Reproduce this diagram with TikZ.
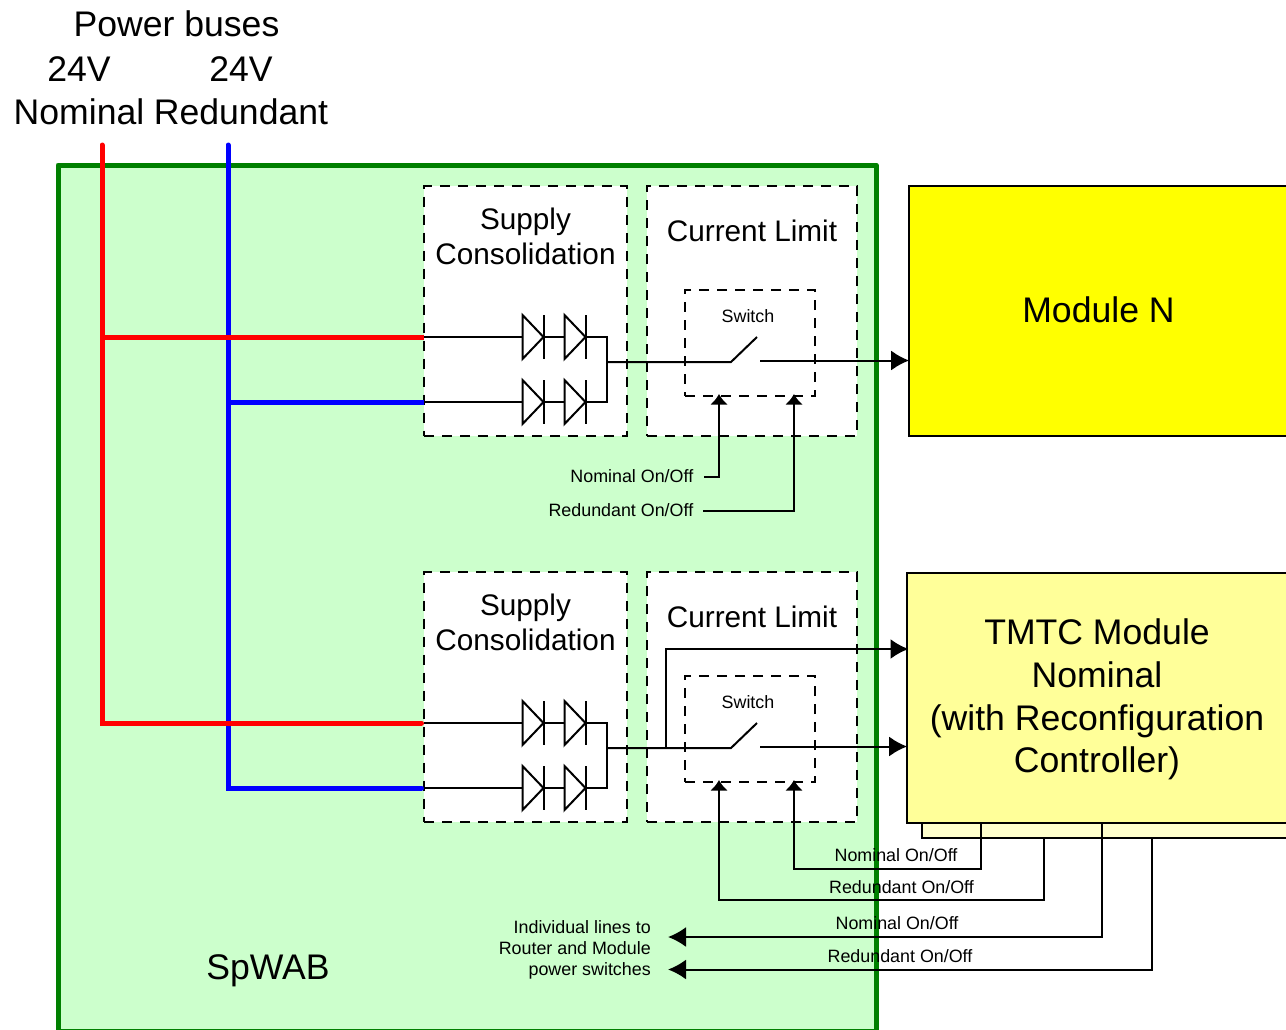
\documentclass[tikz,border=0pt]{standalone}
\usepackage{fontspec}
\setmainfont{Liberation Sans}
\usetikzlibrary{arrows.meta}
\definecolor{wabgreen}{HTML}{CCFFCC}
\definecolor{wabedge}{HTML}{008000}
\definecolor{modyellow}{HTML}{FFFF00}
\definecolor{tmtcyellow}{HTML}{FFFF99}
\definecolor{backyellow}{HTML}{FFFFCC}
\tikzset{
  wire/.style={line width=1.5pt},
  bus/.style={line width=3.75pt,line cap=round},
  block/.style={draw,line width=1.5pt,outer sep=0pt,inner sep=0pt},
  dashbox/.style={block,fill=white,dash pattern=on 7.5pt off 6pt},
  bigtext/.style={font=\fontsize{26.7}{32}\selectfont,align=center,inner sep=0pt},
  midtext/.style={font=\fontsize{22.3}{26.2}\selectfont,align=center,inner sep=0pt},
  smalltext/.style={font=\fontsize{13.4}{15.75}\selectfont,inner sep=0pt},
  bighead/.style={-{Latex[length=13.5pt,width=15pt]}},
  uphead/.style={-{Latex[length=8pt,width=13.5pt]}},
  diode/.pic={
    \draw[wire,line join=miter] (0,-22) -- (0,22) -- (21,0) -- cycle;
    \draw[wire] (21,-22) -- (21,22);
    \coordinate (-in) at (0,0);
    \coordinate (-out) at (21,0);
  }
}
\begin{document}
\begin{tikzpicture}[x=0.75pt,y=-0.75pt]
  \path[clip,use as bounding box] (0,0) rectangle (1286,1029);
  % backplane
  \node[block,fill=wabgreen,draw=wabedge,line width=3.75pt,line join=round,minimum width=613.5pt,minimum height=649.5pt] (wab) at (467,598) {};
  \node[bigtext] (wablabel) at (268,971) {SpWAB};
  % power buses
  \node[bigtext] (title) at (176.5,24) {Power buses};
  \node[bigtext] (volta) at (79,69) {24V};
  \node[bigtext] (voltb) at (241,69) {24V};
  \node[bigtext] (noma) at (79,112) {Nominal};
  \node[bigtext] (reda) at (241,112) {Redundant};
  % two identical switch groups
  \foreach \g/\dy in {a/0,b/386} {
    \begin{scope}[shift={(0,\dy)}]
      \node[dashbox,minimum width=152pt,minimum height=187.5pt] (supply\g) at (525.5,311) {};
      \node[dashbox,minimum width=157.5pt,minimum height=187.5pt] (limit\g) at (752,311) {};
      \node[dashbox,minimum width=97.5pt,minimum height=79.5pt] (switch\g) at (750,343) {};
      \node[midtext] (supplylabel\g) at (525.5,236.5) {Supply\\Consolidation};
      \node[midtext] (limitlabel\g) at (752,231) {Current Limit};
      \node[smalltext] (switchlabel\g) at (748,316) {Switch};
      \coordinate (nomin\g) at (424,337);
      \coordinate (redin\g) at (424,402);
      \coordinate (join\g) at (607,362);
      \coordinate (contact\g) at (731,362);
      \coordinate (lever\g) at (757,337);
      \coordinate (out\g) at (760,360.5);
      \coordinate (ctrlnom\g) at (719,394);
      \coordinate (ctrlred\g) at (794,394);
      \pic (n1\g) at (522.5,337) {diode};
      \pic (n2\g) at (564.5,337) {diode};
      \pic (r1\g) at (522.5,402) {diode};
      \pic (r2\g) at (564.5,402) {diode};
      \draw[wire] (nomin\g) -- (n1\g-in);
      \draw[wire] (n1\g-out) -- (n2\g-in);
      \draw[wire] (redin\g) -- (r1\g-in);
      \draw[wire] (r1\g-out) -- (r2\g-in);
      \draw[wire] (n2\g-out) -| (join\g);
      \draw[wire] (r2\g-out) -| (join\g);
      \draw[wire,line join=miter] (join\g) -- (contact\g) -- (lever\g);
    \end{scope}
  }
  % bus lines
  \coordinate (bluetop) at (228,145);
  \coordinate (redtop) at (102,145);
  \draw[bus,blue,line join=miter,shorten >=1.9pt] (bluetop) |- (redinb);
  \draw[bus,blue,line cap=butt] (bluetop |- redina) -- (redina);
  \draw[bus,red,line join=miter,shorten >=1.9pt] (redtop) |- (nominb);
  \draw[bus,red,line cap=butt] (redtop |- nomina) -- (nomina);
  % modules
  \node[block,fill=backyellow,minimum width=300pt,minimum height=100pt] (backbox) at (1122,771.5) {};
  \node[block,fill=modyellow,minimum width=290pt,minimum height=187.5pt] (modulen) at (1102.5,311) {};
  \node[block,fill=tmtcyellow,minimum width=290pt,minimum height=187.5pt] (tmtc) at (1100.5,698) {};
  \node[bigtext] (modlabel) at (1098.5,310) {Module N};
  \node[bigtext] (tmtclabel) at (1097,699.5) {TMTC Module\\Nominal\\(with Reconfiguration\\Controller)};
  % outputs
  \draw[wire,bighead] (outa) -- (outa -| modulen.west);
  \draw[wire,bighead] (outb) -- (outb -| tmtc.west);
  \coordinate (branch) at (666,748);
  \coordinate (branchtop) at (666,649);
  \draw[wire,bighead] (branch) -- (branchtop) -- ([xshift=1pt]branchtop -| tmtc.west);
  % control lines, upper group
  \node[smalltext,anchor=east] (nomctrla) at (693.5,476) {Nominal On/Off};
  \node[smalltext,anchor=east] (redctrla) at (693.5,510) {Redundant On/Off};
  \coordinate (nomstarta) at (704,477);
  \coordinate (redstarta) at (703,511);
  \draw[wire,uphead] (nomstarta) -| (ctrlnoma);
  \draw[wire,uphead] (redstarta) -| (ctrlreda);
  % control lines, lower group
  \coordinate (tapa) at (981,823);
  \coordinate (tapb) at (1044,838);
  \coordinate (tapc) at (1102,823);
  \coordinate (tapd) at (1152,838);
  \coordinate (rowa) at (981,869);
  \coordinate (rowb) at (1044,900);
  \coordinate (rowc) at (1102,937);
  \coordinate (rowd) at (1152,969.5);
  \coordinate (enda) at (668,937);
  \coordinate (endb) at (668,969.5);
  \draw[wire,uphead] (tapa) -- (rowa) -| (ctrlredb);
  \draw[wire,uphead] (tapb) -- (rowb) -| (ctrlnomb);
  \draw[wire,bighead] (tapc) -- (rowc) -- (enda);
  \draw[wire,bighead] (tapd) -- (rowd) -- (endb);
  \node[smalltext] (nomlinea) at (896,855) {Nominal On/Off};
  \node[smalltext] (redlinea) at (901.5,887) {Redundant On/Off};
  \node[smalltext] (nomlineb) at (897,923) {Nominal On/Off};
  \node[smalltext] (redlineb) at (900,956) {Redundant On/Off};
  \node[smalltext,align=right,anchor=east] (indiv) at (651,950) {Individual lines to\\Router and Module\\power switches};
\end{tikzpicture}
\end{document}
